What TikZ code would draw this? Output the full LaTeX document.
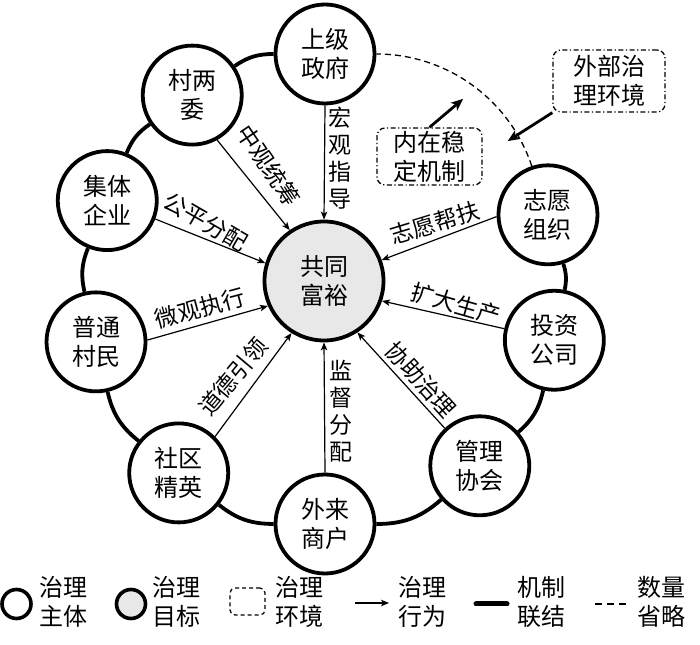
\documentclass[tikz,border=0pt]{standalone}
\usepackage{fontspec}
\newfontfamily\cjk{Noto Sans CJK SC}
\usetikzlibrary{arrows.meta,calc}
\definecolor{goalgray}{HTML}{E8E8E8}
\begin{document}
\begin{tikzpicture}[x=1pt,y=1pt,
  actor/.style={circle, draw, line width=3.8pt, fill=white, minimum size=99pt, inner sep=0pt, align=center, font=\cjk\fontsize{24}{29}\selectfont},
  goal/.style={actor, minimum size=119pt, fill=goalgray},
  act/.style={line width=1.2pt, -{Stealth[length=8pt,width=6.5pt,inset=2pt]}},
  lab/.style={font=\cjk\fontsize{23}{27}\selectfont, inner sep=1pt, align=center},
  ringline/.style={line width=3.8pt},
  omit/.style={line width=1.3pt, dash pattern=on 6pt off 4pt},
  envbox/.style={draw, rounded corners=8pt, line width=1.3pt, dash pattern=on 5pt off 2.5pt on 1.2pt off 2.5pt, inner sep=0pt, align=center, font=\cjk\fontsize{24}{29}\selectfont},
  mech/.style={line width=2.8pt, -{Stealth[length=12pt,width=10pt,inset=3pt]}},
  legtext/.style={font=\cjk\fontsize{24}{29}\selectfont, align=center, inner sep=0pt},
]
\useasboundingbox (0,0) rectangle (700,644);
\coordinate (rc) at (325,355);

% outer actors on the ring
\node[actor] (shang)   at ([shift={(90:235)}]rc)    {上级\\政府};
\node[actor] (cun)     at ([shift={(124.4:235)}]rc) {村两\\委};
\node[actor] (jiti)    at ([shift={(157.9:235)}]rc) {集体\\企业};
\node[actor] (putong)  at ([shift={(193:235)}]rc)   {普通\\村民};
\node[actor] (shequ)   at ([shift={(231.5:235)}]rc) {社区\\精英};
\node[actor] (wailai)  at ([shift={(270:235)}]rc)   {外来\\商户};
\node[actor] (guanli)  at ([shift={(311.2:235)}]rc) {管理\\协会};
\node[actor] (touzi)   at ([shift={(347.4:235)}]rc) {投资\\公司};
\node[actor] (zhiyuan) at ([shift={(18.4:235)}]rc)  {志愿\\组织};

% goal
\node[goal] (fu) at (324,363) {共同\\富裕};

% ring (mechanism links)
\draw[ringline] (shang) to[bend right=17.2] (cun);
\draw[ringline] (cun) to[bend right=16.7] (jiti);
\draw[ringline] (jiti) to[bend right=17.5] (putong);
\draw[ringline] (putong) to[bend right=19.2] (shequ);
\draw[ringline] (shequ) to[bend right=19.2] (wailai);
\draw[ringline] (wailai) to[bend right=20.6] (guanli);
\draw[ringline] (guanli) to[bend right=18.1] (touzi);
\draw[ringline] (touzi) to[bend right=14.5] (zhiyuan);
\draw[omit] (zhiyuan) to[bend right=35.8, looseness=0.94] (shang);

% governance actions
\draw[act] (shang.south) -- (fu.north);
\draw[act] (cun.-61) -- (fu.124);
\draw[act] (jiti.-21) -- (fu.163);
\draw[act] (putong.2) -- (fu.204);
\draw[act] (shequ.45) -- (fu.238);
\draw[act] (wailai.north) -- (fu.south);
\draw[act] (guanli.133) -- (fu.-57);
\draw[act] (touzi.167) -- (fu.-19);
\draw[act] (zhiyuan.182) -- (fu.20);

% action labels
\node[lab] (l1) at (340,486) {宏\\观\\指\\导};
\node[lab] (l2) at (341,233) {监\\督\\分\\配};
\node[lab, rotate=-56] (l3) at (269,478) {中观统筹};
\node[lab, rotate=-30] (l4) at (206,422) {公平分配};
\node[lab, rotate=15]  (l5) at (200,336) {微观执行};
\node[lab, rotate=50]  (l6) at (233,267) {道德引领};
\node[lab, rotate=-48] (l7) at (421,264) {协助治理};
\node[lab, rotate=-16] (l8) at (456,340) {扩大生产};
\node[lab, rotate=17]  (l9) at (435,421) {志愿帮扶};

% environment boxes
\node[envbox, minimum width=112pt, minimum height=62pt] (wb) at (609,563) {外部治\\理环境};
\node[envbox, minimum width=105pt, minimum height=57pt] (nz) at (429.5,487.5) {内在稳\\定机制};
\coordinate (p54) at ([shift={(54:235)}]rc);
\coordinate (p39) at ([shift={(39:235)}]rc);
\draw[mech] (nz.north) -- (p54);
\draw[mech] (wb.south west) -- (p39);

% legend
\node[circle, draw, line width=3.6pt, minimum size=29pt, inner sep=0pt] (lg1) at (16.5,40) {};
\node[legtext] (lt1) at (63,42) {治理\\主体};
\node[circle, draw, line width=3.6pt, minimum size=29pt, inner sep=0pt, fill=goalgray] (lg2) at (131,40) {};
\node[legtext] (lt2) at (176,42) {治理\\目标};
\node[draw, rounded corners=5pt, line width=1.2pt, dash pattern=on 4pt off 3pt, minimum width=35pt, minimum height=27pt, inner sep=0pt] (lg3) at (247.5,42.5) {};
\node[legtext] (lt3) at (299,42) {治理\\环境};
\coordinate (la1) at (355,41);
\coordinate (la2) at (389,41);
\draw[act] (la1) -- (la2);
\node[legtext] (lt4) at (422,42) {治理\\行为};
\coordinate (lm1) at (476,40);
\coordinate (lm2) at (507,40);
\draw[line width=5pt, line cap=round] (lm1) -- (lm2);
\node[legtext] (lt5) at (541,42) {机制\\联结};
\coordinate (ld1) at (595,40);
\coordinate (ld2) at (627,40);
\draw[line width=1.3pt, dash pattern=on 7pt off 5pt] (ld1) -- (ld2);
\node[legtext] (lt6) at (661,42) {数量\\省略};
\end{tikzpicture}
\end{document}
